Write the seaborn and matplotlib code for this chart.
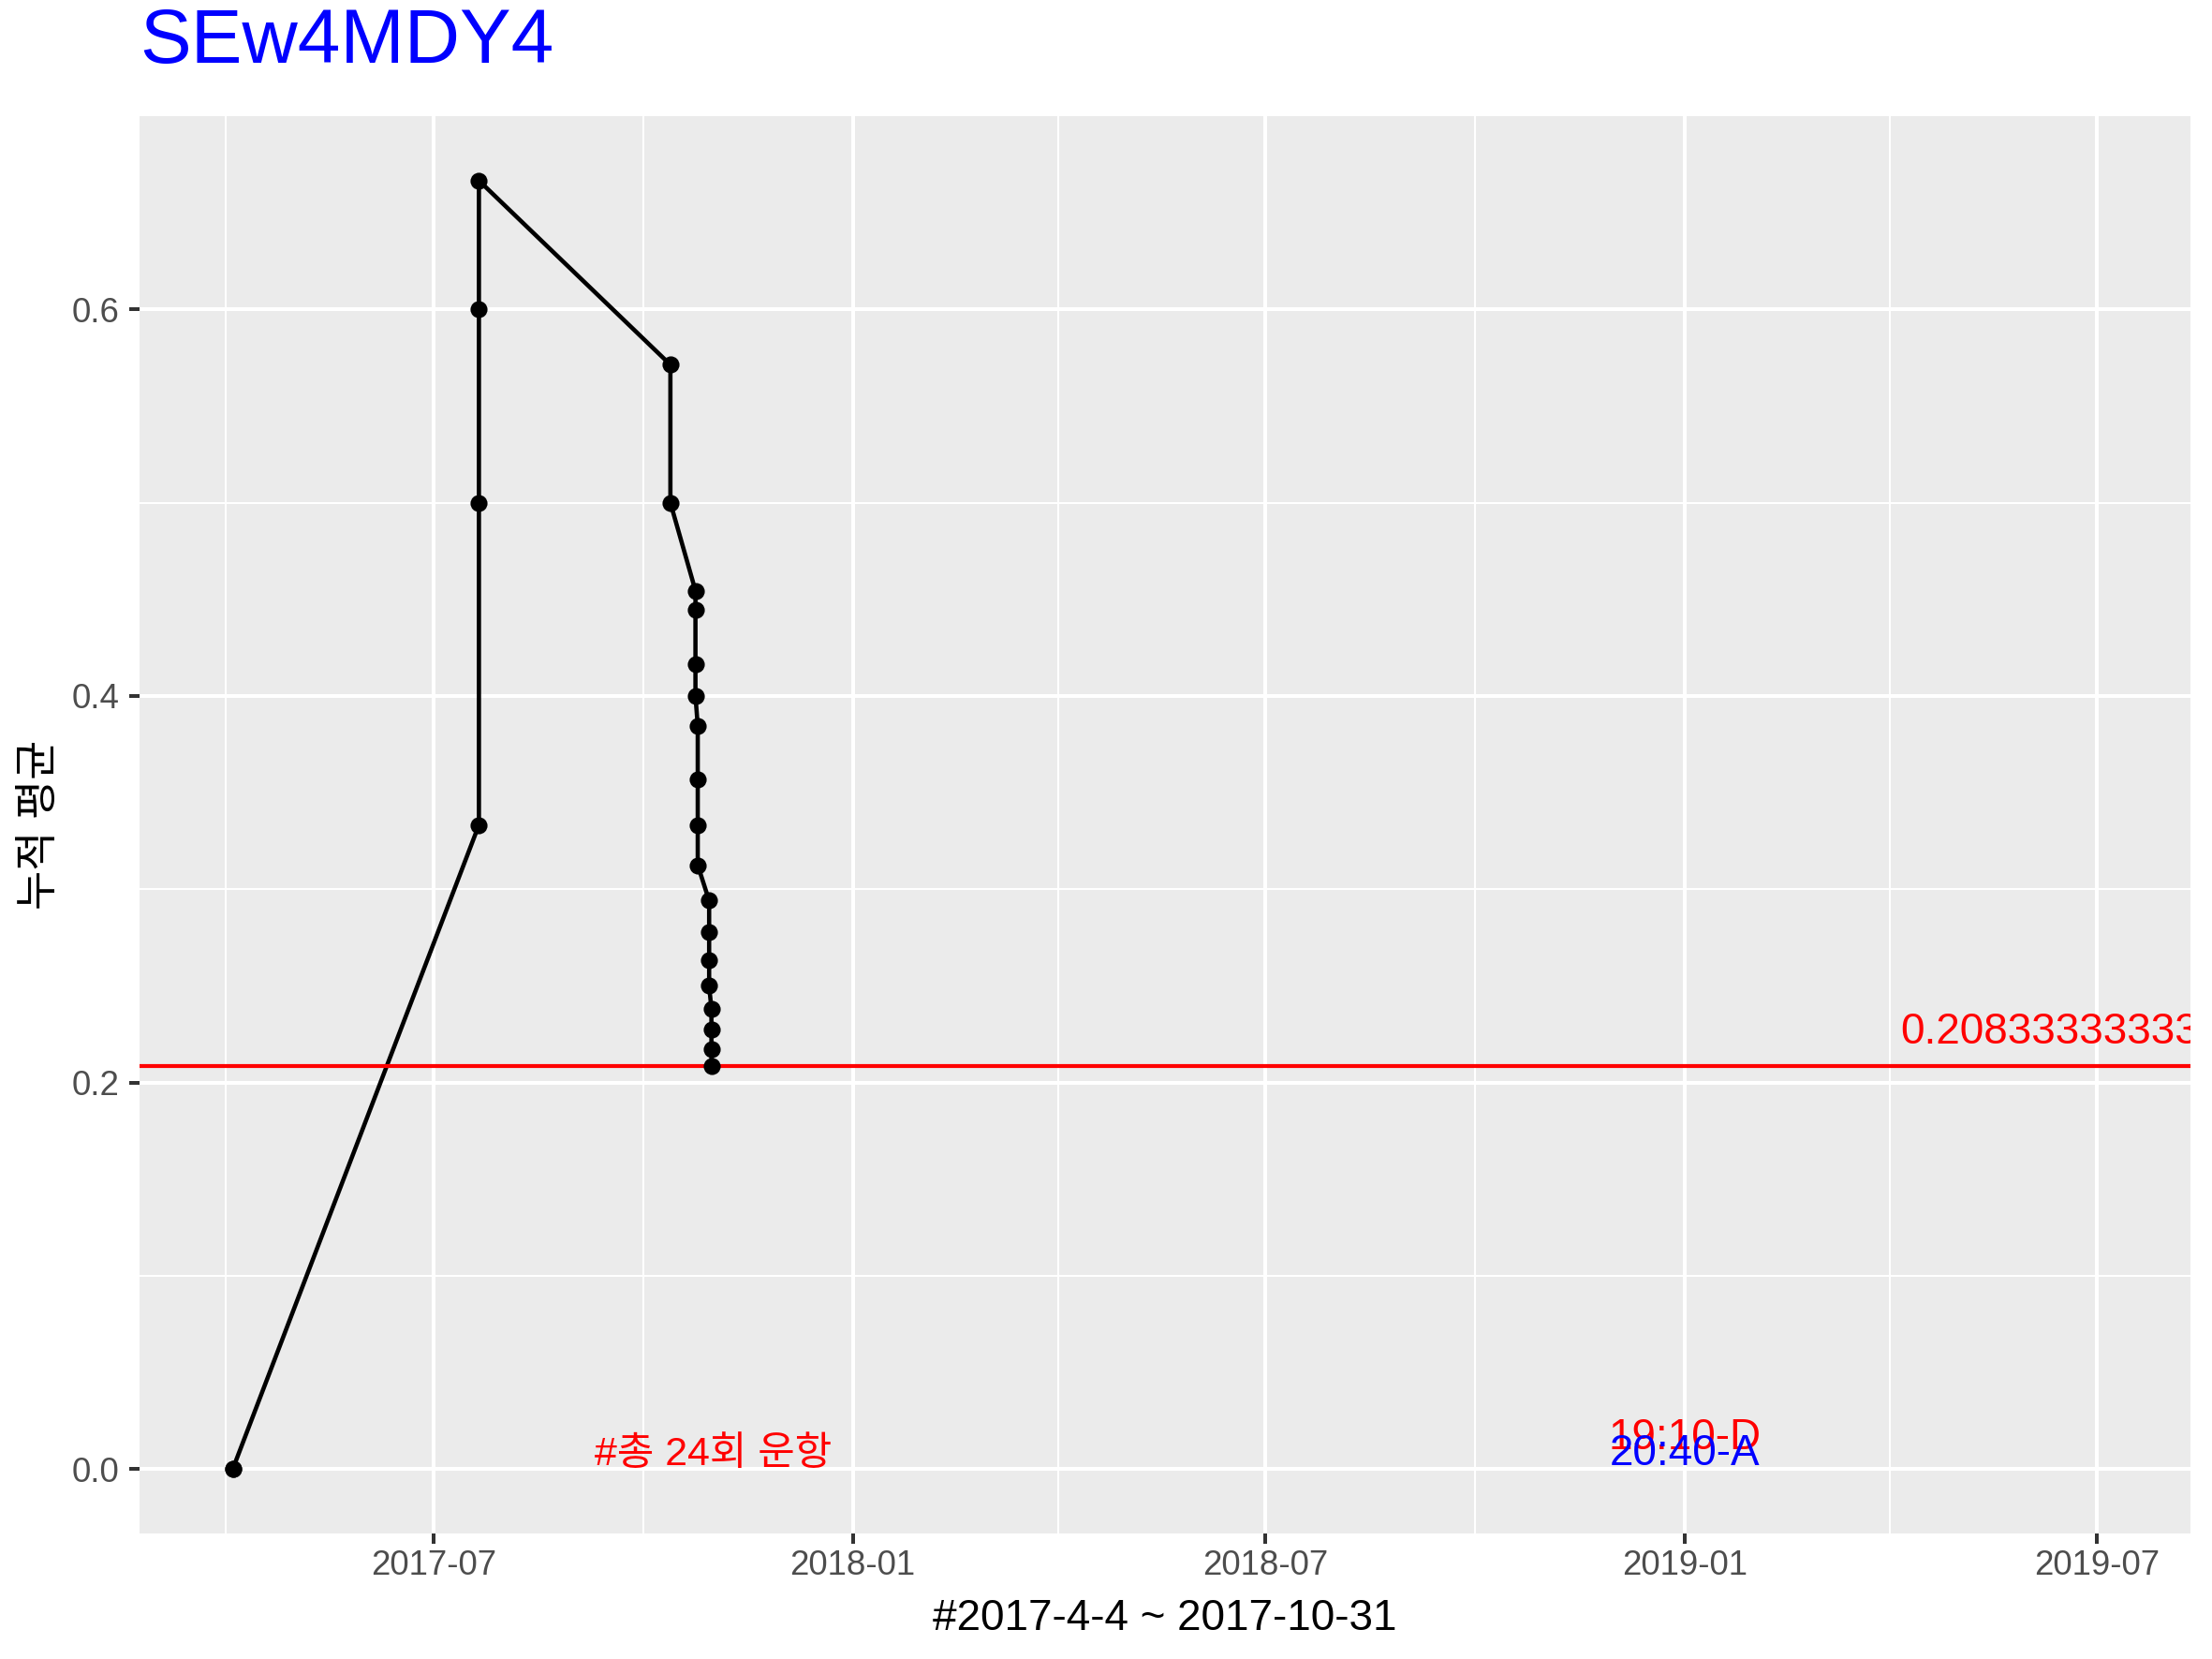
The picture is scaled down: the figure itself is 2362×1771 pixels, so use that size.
import matplotlib
matplotlib.use("Agg")
import matplotlib.pyplot as plt
import matplotlib.dates as mdates
import matplotlib.ticker as mticker
import numpy as np
import pandas as pd
import seaborn as sns

# cumulative average per flight (24 flights)
flight_dates = ["2017-04-04", "2017-04-04",
                "2017-07-21", "2017-07-21", "2017-07-21", "2017-07-21",
                "2017-10-13", "2017-10-13",
                "2017-10-24", "2017-10-24", "2017-10-24", "2017-10-24",
                "2017-10-25", "2017-10-25", "2017-10-25", "2017-10-25",
                "2017-10-30", "2017-10-30", "2017-10-30", "2017-10-30",
                "2017-10-31", "2017-10-31", "2017-10-31", "2017-10-31"]
cum_mean = [0.0, 0.0,
            0.3333, 0.5, 0.6, 0.6667,
            0.5714, 0.5,
            0.4545, 0.4444, 0.4167, 0.4,
            0.3846, 0.3571, 0.3333, 0.3125,
            0.2941, 0.2778, 0.2632, 0.25,
            0.2381, 0.2273, 0.2174, 0.2083]
overall_mean = 0.208333333333333

title = "SEw4MDY4"
x_label = "#2017-4-4 ~ 2017-10-31"
y_label = "누적 평균"
count_text = "#총 24회 운항"
count_date = "2017-11-01"
dep_text = "19:10-D"
arr_text = "20:40-A"
time_date = "2019-01-01"
mean_label_date = "2019-07-01"

df = pd.DataFrame({"date": pd.to_datetime(flight_dates), "value": cum_mean})

sns.set_theme(style="darkgrid", rc={
    "axes.facecolor": "#EBEBEB",
    "grid.color": "white",
    "axes.edgecolor": "none",
})
plt.rcParams["font.family"] = ["Liberation Sans", "Noto Sans CJK KR"]

fig = plt.figure(figsize=(2362 / 300, 1771 / 300), dpi=300)
ax = fig.add_axes([149 / 2362, 1 - 1637 / 1771, (2339 - 149) / 2362, (1637 - 124) / 1771])

sns.lineplot(data=df, x="date", y="value", estimator=None, sort=False,
             color="black", linewidth=1.1, ax=ax)
sns.scatterplot(data=df, x="date", y="value", color="black", s=19,
                linewidth=0, ax=ax, zorder=3)

ax.axhline(overall_mean, color="#FF0000", linewidth=1.0, zorder=2)

# annotations
ax.annotate(f"{overall_mean:.15g}", xy=(pd.Timestamp(mean_label_date), overall_mean),
            xytext=(0, 5.8), textcoords="offset points", ha="center", va="baseline",
            color="#FF0000", fontsize=11, annotation_clip=False, clip_on=True)
ax.text(pd.Timestamp(count_date), 0.002, count_text, ha="center", va="baseline",
        color="#FF0000", fontsize=10.3)
ax.text(pd.Timestamp(time_date), 0.0105, dep_text, ha="center", va="baseline",
        color="#FF0000", fontsize=11)
ax.text(pd.Timestamp(time_date), 0.002, arr_text, ha="center", va="baseline",
        color="#0000FF", fontsize=11)

# scale limits like ggplot (5% expansion)
x0 = df["date"].min()
x1 = pd.Timestamp(mean_label_date)
span = x1 - x0
ax.set_xlim(x0 - span * 0.05, x1 + span * 0.05)
y0, y1 = 0.0, max(cum_mean)
ax.set_ylim(y0 - (y1 - y0) * 0.05, y1 + (y1 - y0) * 0.05)

ax.xaxis.set_major_locator(mdates.MonthLocator(bymonth=[1, 7]))
ax.xaxis.set_major_formatter(mdates.DateFormatter("%Y-%m"))
ax.xaxis.set_minor_locator(mdates.MonthLocator(bymonth=[4, 10]))
ax.yaxis.set_major_locator(mticker.FixedLocator([0.0, 0.2, 0.4, 0.6]))
ax.yaxis.set_major_formatter(mticker.FormatStrFormatter("%.1f"))
ax.yaxis.set_minor_locator(mticker.FixedLocator([0.1, 0.3, 0.5]))

ax.grid(which="major", color="white", linewidth=0.96)
ax.grid(which="minor", color="white", linewidth=0.5)
ax.tick_params(which="major", length=2.64, width=0.96, color="#333333",
               labelsize=8.8, labelcolor="#4D4D4D")
ax.tick_params(axis="x", which="major", pad=1.5, bottom=True)
ax.tick_params(axis="y", which="major", pad=2.6, left=True)
ax.tick_params(which="minor", length=0)

ax.set_xlabel(x_label, fontsize=11, color="black")
ax.set_ylabel(y_label, fontsize=11, color="black")
ax.xaxis.label.set_verticalalignment("baseline")
ax.xaxis.set_label_coords(0.5, -(1740 - 1637) / (1637 - 124))
ax.yaxis.label.set_verticalalignment("center")
ax.yaxis.set_label_coords(-(149 - 43) / (2339 - 149), 0.5)

ax.set_title(title, loc="left", color="#0000FF", fontsize=19.7, pad=13.7)

fig.savefig("out.png", dpi=300)
